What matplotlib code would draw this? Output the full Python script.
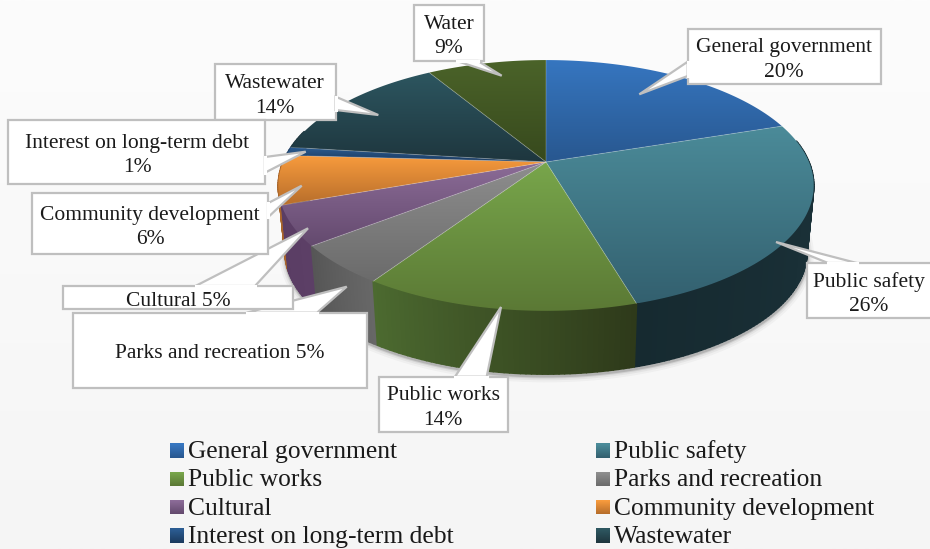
import numpy as np
import matplotlib
matplotlib.use("Agg")
import matplotlib.pyplot as plt
from matplotlib.colors import to_rgb, LinearSegmentedColormap
from matplotlib.patches import Polygon, Rectangle
from matplotlib.collections import PolyCollection
from matplotlib.legend_handler import HandlerBase

plt.rcParams['font.family'] = ['Liberation Serif', 'DejaVu Serif']

# ---- data ----
categories = ["General government", "Public safety", "Public works", "Parks and recreation",
              "Cultural", "Community development", "Interest on long-term debt",
              "Wastewater", "Water"]
values = [19.9, 25.5, 13.9, 5.1, 5.1, 6.3, 1.1, 14.4, 8.6]
label_text = ["General government\n20%", "Public safety\n26%", "Public works\n14%",
              "Parks and recreation 5%", "Cultural 5%", "Community development\n6%",
              "Interest on long-term debt\n1%", "Wastewater\n14%", "Water\n9%"]
legend_order = [0, 2, 4, 6, 1, 3, 5, 7]

# ---- styles ----
top_hi = ["#3676c0", "#4b8b99", "#78a64b", "#8e8e8e", "#8c6c98", "#f89b3d", "#2b5c92", "#2d5660", "#4b6329"]
top_lo = ["#28578f", "#33606f", "#5b7935", "#6b6b6b", "#644a6e", "#b76e2b", "#1b3a5e", "#1e363e", "#37491d"]
wall_a = ["#1d353d", "#1d353d", "#2e3a1a", "#686868", "#5c3f66", "#a9652a", "#1b3a5e", "#1e363e", "#37491d"]
wall_b = ["#1d353d", "#162a30", "#4c6a30", "#555555", "#5a3d64", "#a9652a", "#1b3a5e", "#1e363e", "#37491d"]

# ---- layout (pixels) ----
CX, CY, R, S, T = 546, 162, 263, 121, 0.187
DEPTH_SCALE, DEPTH = 0.975, 67
TEXT_DY = 2.5

# callout: box (x0, y0, x1, y1), tail points, text centre
boxes = {
    3: ((73, 312.7, 366.7, 388), [(246.7, 312.7), (346.7, 286.7), (317, 312.7)], (220, 351.5)),
    4: ((63.3, 286, 293.3, 309.3), [(195.5, 286), (308, 228.3), (255, 286)], (178, 298.5)),
    5: ((31.7, 192.7, 268.3, 254), [(268.3, 203), (301.7, 185.7), (268.3, 217)], (150, 225)),
    7: ((215, 64.3, 335.7, 120), [(335.7, 96.7), (378.3, 115), (335.7, 110)], (275, 93.5)),
    6: ((8.3, 120, 265, 184), [(265, 157), (305.7, 151.7), (265, 172.7)], (137, 153)),
    8: ((414.3, 5, 484, 61), [(456.7, 61), (501.7, 75.7), (478, 61)], (449, 34)),
    0: ((687.7, 29, 880.7, 84), [(687.7, 61.7), (639.3, 94.3), (687.7, 76)], (784, 57.5)),
    1: ((806.7, 263, 934, 318), [(828, 263), (776, 242), (856.7, 263)], (869, 291.5)),
    2: ((379, 376.7, 507.7, 431.7), [(455, 376.7), (501, 307), (486.7, 376.7)], (443, 405.5)),
}
draw_order = [0, 1, 2, 3, 4, 5, 7, 6, 8]


def project(theta):
    """Clockwise angle from 12 o'clock -> pixel position on the top face."""
    x, y = np.sin(theta), np.cos(theta)
    w = 1 + T * y
    return x * R / w, y * S / w


def top_pt(theta):
    X, Y = project(theta)
    return CX + X, CY - Y


def bot_pt(theta):
    X, Y = project(theta)
    return CX + X * DEPTH_SCALE, CY - Y * DEPTH_SCALE + DEPTH


fig = plt.figure(figsize=(9.3, 5.49), dpi=100)
ax = fig.add_axes([0, 0, 1, 1])
ax.set_axis_off()

# background
bg = LinearSegmentedColormap.from_list("bg", ["#fcfcfc", "#f9f9f9", "#f5f5f5"])
ax.imshow(np.linspace(0, 1, 256)[:, None], cmap=bg, extent=(0, 930, 549, 0), aspect="auto", zorder=0)

frac = np.cumsum([0] + values) / sum(values) * 2 * np.pi

# soft shadow under the rim
th = np.radians(np.linspace(85, 275, 200))
bx, by = bot_pt(th)
for lw, a in [(9, 0.04), (6, 0.06), (3.5, 0.10), (2, 0.18)]:
    ax.plot(bx + 0.5, by + 2, color="#303030", lw=lw, alpha=a, zorder=1, solid_capstyle="round")

# side wall, back to front
quads, cols = [], []
for i in range(len(values)):
    a, b = frac[i], frac[i + 1]
    steps = max(2, int(np.degrees(b - a)))
    edges = np.linspace(a, b, steps + 1)
    ca, cb = np.array(to_rgb(wall_a[i])), np.array(to_rgb(wall_b[i]))
    for k in range(steps):
        t0, t1 = edges[k], edges[k + 1]
        mid = 0.5 * (t0 + t1)
        if not (np.radians(80) < mid < np.radians(285)):
            continue
        p = [top_pt(t0), top_pt(t1), bot_pt(t1), bot_pt(t0)]
        f = (k + 0.5) / steps
        quads.append((np.cos(mid), p))
        cols.append(ca * (1 - f) + cb * f)
order = np.argsort([q[0] for q in quads])[::-1]
ax.add_collection(PolyCollection([quads[j][1] for j in order],
                                 facecolors=[cols[j] for j in order],
                                 edgecolors=[cols[j] for j in order], linewidths=1.2, zorder=2))

# top face: each slice with a vertical gradient
for i in range(len(values)):
    t = np.linspace(frac[i], frac[i + 1], max(3, int(np.degrees(frac[i + 1] - frac[i])) * 2))
    px, py = top_pt(t)
    verts = np.column_stack([np.r_[CX, px], np.r_[CY, py]])
    poly = Polygon(verts, closed=True, facecolor="none", edgecolor="none", transform=ax.transData)
    ax.add_patch(poly)
    cm = LinearSegmentedColormap.from_list("s%d" % i, [top_hi[i], top_lo[i]])
    im = ax.imshow(np.linspace(0, 1, 256)[:, None], cmap=cm,
                   extent=(verts[:, 0].min(), verts[:, 0].max(), verts[:, 1].max(), verts[:, 1].min()),
                   aspect="auto", zorder=3, interpolation="bilinear")
    im.set_clip_path(poly)
    ax.plot(verts[[1, 0, -1], 0], verts[[1, 0, -1], 1], color="white", alpha=0.12, lw=0.7, zorder=3.2)

# callouts
z = 5
for i in draw_order:
    (x0, y0, x1, y1), tail, (tx, ty) = boxes[i]
    ax.add_patch(Rectangle((x0, y0), x1 - x0, y1 - y0, facecolor="white", edgecolor="#bfbfbf", lw=1.6, zorder=z))
    ax.add_patch(Polygon(tail, closed=True, facecolor="white", edgecolor="#bfbfbf", lw=1.6, zorder=z + 0.1,
                         joinstyle="miter"))
    # hide the box edge under the tail mouth
    ax.plot([tail[0][0], tail[-1][0]], [tail[0][1], tail[-1][1]], color="white", lw=2.2, zorder=z + 0.2)
    ax.text(tx, ty + TEXT_DY, label_text[i], ha="center", va="center", fontsize=15.5, color="#1a1a1a",
            linespacing=1.42, zorder=z + 0.3)
    z += 1


class GradHandler(HandlerBase):
    def __init__(self, hi, lo):
        super().__init__()
        self.hi, self.lo = np.array(to_rgb(hi)), np.array(to_rgb(lo))

    def create_artists(self, legend, orig, xd, yd, w, h, fs, trans):
        n = 14
        s = w
        y0 = -yd + (h - s) / 2 - 1.2
        out = []
        for k in range(n):
            f = k / (n - 1)
            c = self.lo * (1 - f) + self.hi * f
            out.append(Rectangle((-xd, y0 + s * k / n), s, s / n + 0.2, facecolor=c, edgecolor="none", transform=trans))
        return out


handles = [Rectangle((0, 0), 1, 1, label=categories[i]) for i in legend_order]
hmap = {h: GradHandler(top_hi[i], top_lo[i]) for h, i in zip(handles, legend_order)}
ax.legend(handles=handles, ncols=2, loc="upper left", bbox_to_anchor=(170, 440), bbox_transform=ax.transData,
          frameon=False, fontsize=18.4, handler_map=hmap, borderpad=0, borderaxespad=0,
          handlelength=0.55, handleheight=0.55, handletextpad=0.17, columnspacing=5.54, labelspacing=0.25,
          labelcolor="#1a1a1a")

ax.set_xlim(0, 930)
ax.set_ylim(549, 0)
fig.savefig("out.png", dpi=100)
